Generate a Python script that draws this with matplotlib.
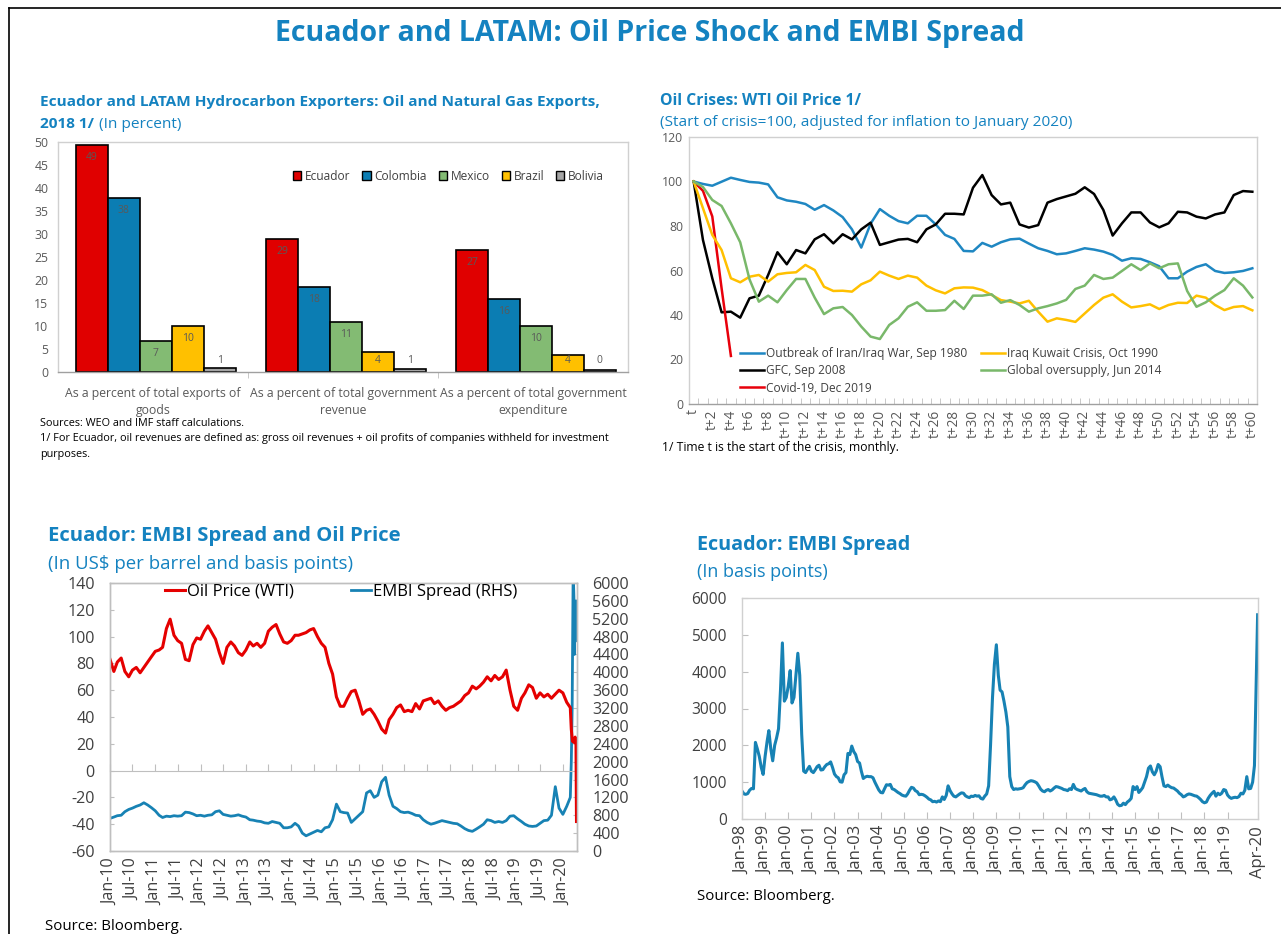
import numpy as np
import pandas as pd
import matplotlib
matplotlib.use("Agg")
import matplotlib.pyplot as plt
import matplotlib.dates as mdates
from matplotlib.patches import Patch
from matplotlib.lines import Line2D

plt.rcParams['font.family'] = ['Open Sans', 'DejaVu Sans']
plt.rcParams['axes.unicode_minus'] = False

# ---------------- data ----------------
# panel 1: hydrocarbon exports (percent)
bar_categories = ["As a percent of total exports of\ngoods",
                  "As a percent of total government\nrevenue",
                  "As a percent of total government\nexpenditure"]
countries = ["Ecuador", "Colombia", "Mexico", "Brazil", "Bolivia"]
ecuador_share = [49.4, 29.0, 26.6]
colombia_share = [37.9, 18.4, 15.9]
mexico_share = [6.7, 10.9, 9.9]
brazil_share = [9.9, 4.3, 3.6]
bolivia_share = [0.8, 0.6, 0.4]

# panel 2: WTI oil price in crises (start = 100), months t .. t+60
crisis_months = ['t' if i == 0 else 't+%d' % i for i in range(61)]
iran_iraq_1980 = [100, 98.9, 98.1, 99.9, 101.7, 100.7, 99.8, 99.5, 98.7, 92.9,
                  91.5, 90.9, 89.9, 87.3, 89.4, 87.0, 84.0, 78.5, 70.3, 81.0,
                  87.6, 84.6, 82.2, 81.2, 84.6, 84.6, 80.7, 76.0, 74.2, 68.8,
                  68.6, 72.4, 70.7, 72.7, 74.0, 74.3, 72.1, 70.0, 68.8, 67.3,
                  67.7, 68.8, 70.0, 69.4, 68.5, 67.0, 64.4, 65.5, 65.2, 63.7,
                  61.9, 56.5, 56.5, 59.5, 61.6, 62.8, 59.8, 58.9, 59.2, 59.8,
                  61.0]
iraq_kuwait_1990 = [100, 88.0, 76.0, 69.2, 56.5, 54.7, 57.2, 58.0, 55.0, 58.3,
                    58.9, 59.2, 62.5, 60.2, 52.7, 50.8, 50.9, 50.5, 53.8, 55.6,
                    59.5, 57.7, 56.2, 57.7, 56.8, 53.2, 51.1, 49.7, 52.0, 52.4,
                    52.3, 51.2, 49.0, 46.7, 46.0, 45.2, 46.4, 41.5, 37.0, 38.5,
                    37.8, 36.9, 40.7, 44.5, 47.8, 49.3, 46.0, 43.4, 44.0, 44.8,
                    42.7, 44.5, 45.5, 45.4, 48.7, 47.8, 44.5, 42.2, 43.6, 44.0,
                    42.1]
gfc_2008 = [100, 73.7, 56.5, 41.2, 41.5, 38.8, 47.5, 48.7, 58.0, 68.2,
            62.8, 69.2, 67.7, 74.0, 76.3, 72.2, 76.3, 74.0, 78.5, 81.5,
            71.5, 72.7, 73.9, 74.2, 72.7, 78.5, 80.7, 85.5, 85.5, 85.2,
            97.2, 102.9, 93.9, 89.7, 90.5, 80.7, 79.3, 80.4, 90.5, 92.1,
            93.3, 94.5, 97.4, 94.4, 87.2, 75.7, 81.2, 86.1, 86.1, 81.6,
            79.4, 81.2, 86.4, 86.1, 84.2, 83.4, 85.2, 86.1, 93.9, 95.7,
            95.4]
oversupply_2014 = [100, 97.5, 91.7, 89.0, 81.2, 72.7, 56.0, 46.0, 48.7, 45.7,
                   51.2, 56.2, 56.2, 47.8, 40.4, 43.0, 43.6, 40.0, 34.8, 30.3,
                   29.2, 35.5, 38.5, 43.7, 45.7, 41.9, 41.9, 42.2, 46.4, 42.7,
                   48.7, 48.7, 49.3, 45.5, 46.7, 44.5, 41.5, 43.0, 44.0, 45.2,
                   46.8, 51.7, 53.2, 58.0, 56.2, 56.8, 59.8, 62.8, 60.2, 63.2,
                   61.0, 62.8, 63.2, 50.8, 43.7, 45.7, 48.7, 51.2, 56.5, 53.2,
                   47.9]
covid_2019 = [100, 95.8, 84.3, 52.0, 21.6]

# panel 3: WTI (US$/bbl) and Ecuador EMBI (bp), monthly from Jan-2010 to Feb-2020
wti_monthly = [83, 74, 81, 84, 74, 70, 75, 77, 73, 77,
               81, 85, 89, 90, 92, 106, 113, 101, 97, 95,
               83, 82, 94, 99, 98, 104, 108, 103, 98, 88,
               80, 92, 96, 93, 88, 86, 90, 96, 93, 95,
               92, 95, 104, 107, 109, 102, 96, 95, 97, 101,
               101, 102, 103, 105, 106, 100, 95, 92, 80, 72,
               55, 48, 48, 54, 59, 60, 52, 42, 45, 46,
               42, 37, 31, 28, 38, 42, 47, 49, 44, 45,
               44, 50, 46, 52, 53, 54, 50, 52, 48, 45,
               47, 48, 50, 52, 56, 58, 63, 61, 63, 66,
               70, 67, 71, 68, 70, 75, 60, 48, 45, 54,
               58, 64, 62, 54, 58, 55, 57, 54, 57, 60,
               58, 51]
wti_tail_dates = ['2020-03-01', '2020-03-09', '2020-03-18', '2020-03-31',
                  '2020-04-09', '2020-04-16', '2020-04-20']
wti_tail = [47, 31, 22, 21, 25, 20, -38]
embi_monthly = [730, 760, 790, 800, 880, 930, 960, 1000, 1030, 1080,
                1030, 970, 900, 800, 750, 780, 770, 790, 780, 790,
                870, 860, 830, 790, 800, 780, 800, 810, 880, 900,
                820, 800, 780, 790, 810, 780, 760, 700, 690, 670,
                660, 630, 620, 660, 640, 620, 520, 520, 540, 620,
                560, 400, 340, 380, 420, 460, 430, 520, 540, 700,
                1050, 880, 860, 850, 640, 720, 800, 880, 1300, 1350,
                1200, 1250, 1550, 1650, 1250, 1000, 950, 880, 860, 870,
                840, 800, 790, 700, 640, 600, 620, 650, 680, 660,
                640, 620, 610, 560, 500, 460, 440, 490, 540, 600,
                700, 680, 640, 660, 640, 680, 780, 790, 720, 660,
                600, 560, 550, 560, 620, 680, 690, 800, 1440, 960,
                820, 1000]
embi_tail_dates = ['2020-03-01', '2020-03-09', '2020-03-16', '2020-03-20',
                   '2020-03-24', '2020-03-31', '2020-04-03', '2020-04-08',
                   '2020-04-14', '2020-04-17', '2020-04-21']
embi_tail = [1200, 2000, 3200, 4800, 6300, 5600, 4400, 5200, 4700, 5600, 5300]

# panel 4: Ecuador EMBI (bp), monthly from Jan-1998 to Mar-2020, then Apr-2020
embi_long = [760, 680, 670, 690, 780, 830, 820, 2080, 1900, 1700,
             1400, 1210, 1700, 2100, 2400, 1900, 1580, 2000, 2200, 2450,
             3500, 4780, 3200, 3300, 3600, 4030, 3150, 3300, 3900, 4500,
             3900, 2300, 1300, 1260, 1350, 1430, 1300, 1260, 1330, 1420,
             1460, 1330, 1340, 1420, 1480, 1500, 1550, 1400, 1220, 1150,
             1120, 1010, 1000, 1200, 1260, 1780, 1750, 1980, 1830, 1750,
             1560, 1520, 1300, 1100, 1140, 1160, 1150, 1150, 1120, 1000,
             890, 790, 720, 710, 820, 930, 920, 940, 820, 800,
             760, 720, 690, 650, 630, 620, 680, 780, 860, 840,
             770, 740, 660, 670, 660, 630, 590, 540, 520, 470,
             480, 460, 490, 470, 600, 530, 640, 900, 770, 680,
             620, 600, 640, 680, 710, 700, 630, 600, 580, 620,
             610, 640, 620, 630, 560, 540, 620, 680, 900, 2000,
             3300, 4200, 4730, 3900, 3500, 3450, 3200, 2900, 2500, 1150,
             880, 800, 820, 810, 820, 830, 850, 930, 990, 1020,
             1040, 1030, 1010, 980, 900, 810, 760, 740, 780, 800,
             760, 790, 840, 880, 870, 850, 830, 800, 790, 770,
             820, 800, 940, 830, 800, 780, 760, 800, 830, 740,
             700, 690, 680, 670, 660, 640, 620, 620, 640, 600,
             600, 520, 540, 600, 520, 400, 360, 370, 430, 390,
             460, 500, 560, 880, 800, 880, 720, 780, 850, 1000,
             1150, 1380, 1440, 1280, 1200, 1300, 1480, 1420, 1150, 900,
             880, 920, 880, 850, 840, 800, 760, 700, 660, 600,
             620, 660, 680, 670, 650, 630, 620, 580, 530, 470,
             440, 460, 560, 640, 700, 750, 620, 700, 660, 700,
             800, 780, 650, 590, 560, 580, 590, 580, 610, 700,
             680, 780, 1150, 820, 830, 1000, 1450]
embi_long_last_date = '2020-04-20'
embi_long_last = 5545

# ---------------- style ----------------
W, H = 1281, 934
TITLE_BLUE = '#1482c0'
GRID_GREY = '#bfbfbf'
TICK_GREY = '#595959'
DARK_GREY = '#404040'
bar_colors = ['#e00000', '#0b7db3', '#83bb73', '#ffc000', '#a5a5a5']

fig = plt.figure(figsize=(W / 100, H / 100), dpi=100)


def box(l, t, r, b):
    return [l / W, 1 - b / H, (r - l) / W, (b - t) / H]


def txt(x, y, s, **kw):
    kw.setdefault('va', 'center')
    return fig.text(x / W, 1 - y / H, s, **kw)


def grey_spines(ax, color=GRID_GREY):
    for sp in ax.spines.values():
        sp.set_color(color)
        sp.set_linewidth(1.0)


# frame
fig.add_artist(Line2D([9 / W, 9 / W], [0, 1 - 8 / H], color='black', lw=1.2))
fig.add_artist(Line2D([9 / W, 1], [1 - 8 / H, 1 - 8 / H], color='black', lw=1.2))

txt(650, 33, "Ecuador and LATAM: Oil Price Shock and EMBI Spread",
    ha='center', fontsize=20.5, fontweight='bold', color=TITLE_BLUE)

# ---------------- panel 1: bars ----------------
txt(40, 102, "Ecuador and LATAM Hydrocarbon Exporters: Oil and Natural Gas Exports,",
    fontsize=11.1, fontweight='bold', color=TITLE_BLUE)
t_bold = txt(40, 124, "2018 1/", fontsize=11.1, fontweight='bold', color=TITLE_BLUE)
fig.canvas.draw()
bb = t_bold.get_window_extent()
txt(bb.x1 + 5, 124, "(In percent)", fontsize=11.1, color=TITLE_BLUE)

ax1 = fig.add_axes(box(58, 142, 628, 372))
xc = np.arange(len(bar_categories))
bw = 0.168
series = [ecuador_share, colombia_share, mexico_share, brazil_share, bolivia_share]
for k, (name, vals, col) in enumerate(zip(countries, series, bar_colors)):
    pos = xc + (k - 2) * bw + 0.015
    ax1.bar(pos, vals, bw, color=col, edgecolor='black', linewidth=1.2, label=name, zorder=2)
    for p, v in zip(pos, vals):
        ax1.text(p, max(v - 2.7, 2.6), "%.0f" % v, ha='center', va='center',
                 fontsize=7.5, color=TICK_GREY, zorder=3)
ax1.set_xlim(-0.5, 2.5)
ax1.set_ylim(0, 50)
ax1.set_yticks(np.arange(0, 51, 5))
ax1.set_xticks(xc)
ax1.set_xticklabels(bar_categories, fontsize=8.8, color=TICK_GREY, linespacing=1.4)
ax1.set_xticks([0.5, 1.5], minor=True)
ax1.tick_params(axis='x', which='major', length=0, pad=11)
ax1.tick_params(axis='x', which='minor', length=4, color=GRID_GREY, direction='out')
ax1.tick_params(axis='y', length=0, labelsize=8.8, labelcolor=TICK_GREY, pad=7)
grey_spines(ax1, '#d0d0d0')
ax1.spines['bottom'].set_color('#a0a0a0')
handles1 = [Patch(facecolor=c, edgecolor='black', linewidth=1.0) for c in bar_colors]
ax1.legend(handles1, countries, loc='center', bbox_to_anchor=(0.685, 0.852), ncol=5,
           frameon=False, fontsize=8.6, handlelength=0.7, handleheight=0.7,
           handletextpad=0.3, columnspacing=1.0, labelcolor=DARK_GREY)

txt(40, 424, "Sources: WEO and IMF staff calculations.", fontsize=7.8, color='black')
txt(40, 439, "1/ For Ecuador, oil revenues are defined as: gross oil revenues + oil profits of companies withheld for investment",
    fontsize=7.8, color='black')
txt(40, 454, "purposes.", fontsize=7.8, color='black')

# ---------------- panel 2: oil crises ----------------
txt(660, 101, "Oil Crises: WTI Oil Price 1/", fontsize=11.3, fontweight='bold', color=TITLE_BLUE)
txt(660, 122, "(Start of crisis=100, adjusted for inflation to January 2020)",
    fontsize=11.1, color=TITLE_BLUE)

ax2 = fig.add_axes(box(689, 137, 1257, 404))
months = np.arange(len(crisis_months))
lw2 = 1.8
ax2.plot(months, iran_iraq_1980, color='#1f87c2', lw=lw2, label="Outbreak of Iran/Iraq War, Sep 1980")
ax2.plot(months, gfc_2008, color='black', lw=lw2, label="GFC, Sep 2008")
ax2.plot(months[:len(covid_2019)], covid_2019, color='#e8000b', lw=lw2, label="Covid-19, Dec 2019")
ax2.plot(months, iraq_kuwait_1990, color='#ffc000', lw=lw2, label="Iraq Kuwait Crisis, Oct 1990")
ax2.plot(months, oversupply_2014, color='#79b86a', lw=lw2, label="Global oversupply, Jun 2014")
ax2.set_xlim(-0.5, 60.5)
ax2.set_ylim(0, 120)
ax2.set_yticks(np.arange(0, 121, 20))
ax2.set_xticks(months[::2])
ax2.set_xticklabels(crisis_months[::2], rotation=90, fontsize=9.8, color=TICK_GREY)
ax2.set_xticks(np.arange(-0.5, 61, 1), minor=True)
ax2.tick_params(axis='x', which='major', length=0, pad=4)
ax2.tick_params(axis='x', which='minor', length=4, direction='in', color=GRID_GREY)
ax2.tick_params(axis='y', length=0, labelsize=8.8, labelcolor=TICK_GREY, pad=4)
grey_spines(ax2, '#d0d0d0')
ax2.spines['bottom'].set_color('#a0a0a0')
ax2.legend(loc='upper left', bbox_to_anchor=((740 - 689) / 568, (404 - 347) / 267), ncol=2,
           frameon=False, fontsize=8.6, handlelength=2.0, handletextpad=0.15,
           labelspacing=0.36, columnspacing=1.2, borderpad=0, borderaxespad=0,
           labelcolor=DARK_GREY)
txt(662, 447, "1/ Time t is the start of the crisis, monthly.", fontsize=8.7, color='black')

# ---------------- panel 3: EMBI and oil ----------------
txt(48, 536, "Ecuador: EMBI Spread and Oil Price", fontsize=14.6, fontweight='bold', color=TITLE_BLUE)
txt(48, 564, "(In US\\$ per barrel and basis points)", fontsize=13.4, color=TITLE_BLUE)

wti_dates = list(pd.date_range('2010-01-01', periods=len(wti_monthly), freq='MS')) + \
    list(pd.to_datetime(wti_tail_dates))
wti_vals = wti_monthly + wti_tail
embi_dates = list(pd.date_range('2010-01-01', periods=len(embi_monthly), freq='MS')) + \
    list(pd.to_datetime(embi_tail_dates))
embi_vals = embi_monthly + embi_tail

ax3 = fig.add_axes(box(110, 583, 577, 851))
ax3b = ax3.twinx()
ax3b.plot(embi_dates, embi_vals, color='#1782b4', lw=2.0, label="EMBI Spread (RHS)")
ax3.plot(wti_dates, wti_vals, color='#e50000', lw=2.2, label="Oil Price (WTI)")
ax3.set_zorder(ax3b.get_zorder() + 1)
ax3.patch.set_visible(False)
x_lo, x_hi = pd.Timestamp('2010-01-01'), pd.Timestamp('2020-04-24')
ax3.set_xlim(x_lo, x_hi)
ax3.set_ylim(-60, 140)
ax3.set_yticks(np.arange(-60, 141, 20))
ax3b.set_ylim(0, 6000)
ax3b.set_yticks(np.arange(0, 6001, 400))
half_years = pd.date_range('2010-01-01', '2020-01-01', freq='6MS')
ax3.set_xticks(half_years)
ax3.xaxis.set_major_formatter(mdates.DateFormatter('%b-%y'))
ax3.tick_params(axis='x', length=0, labelrotation=90, labelsize=11.6, labelcolor=DARK_GREY, pad=5)
ax3.tick_params(axis='y', direction='in', length=3, color=GRID_GREY, labelsize=11.6,
                labelcolor=DARK_GREY, pad=11)
ax3b.tick_params(axis='y', direction='in', length=3, color=GRID_GREY, labelsize=11.6,
                 labelcolor=DARK_GREY, pad=11)
grey_spines(ax3)
grey_spines(ax3b)
zero_axis = ax3.secondary_xaxis((0 - (-60)) / 200)
zero_axis.set_xticks(half_years)
zero_axis.set_xticklabels([])
zero_axis.tick_params(direction='in', length=5, color=GRID_GREY)
zero_axis.spines['bottom'].set_color(GRID_GREY)
h3 = ax3.get_legend_handles_labels()
h3b = ax3b.get_legend_handles_labels()
ax3.legend(h3[0] + h3b[0], h3[1] + h3b[1], loc='upper left',
           bbox_to_anchor=((165 - 110) / 467, (851 - 584) / 268), ncol=2, frameon=False,
           fontsize=12, handlelength=1.2, handletextpad=0.12, columnspacing=3.4,
           borderpad=0, borderaxespad=0, labelcolor='black')
txt(45, 926, "Source: Bloomberg.", fontsize=10.8, color='black')

# ---------------- panel 4: EMBI long ----------------
txt(697, 545, "Ecuador: EMBI Spread", fontsize=14.2, fontweight='bold', color=TITLE_BLUE)
txt(697, 572, "(In basis points)", fontsize=13, color=TITLE_BLUE)

long_dates = list(pd.date_range('1998-01-01', periods=len(embi_long), freq='MS')) + \
    [pd.Timestamp(embi_long_last_date)]
long_vals = embi_long + [embi_long_last]
ax4 = fig.add_axes(box(742, 598, 1258, 819))
ax4.plot(long_dates, long_vals, color='#1782b4', lw=2.2)
ax4.set_xlim(pd.Timestamp('1998-01-01'), pd.Timestamp('2020-04-26'))
ax4.set_ylim(0, 6000)
ax4.set_yticks(np.arange(0, 6001, 1000))
year_ticks = list(pd.date_range('1998-01-01', '2019-01-01', freq='YS')) + \
    [pd.Timestamp(embi_long_last_date)]
ax4.set_xticks(year_ticks)
ax4.xaxis.set_major_formatter(mdates.DateFormatter('%b-%y'))
ax4.tick_params(axis='x', direction='in', length=5, color=GRID_GREY, labelrotation=90,
                labelsize=12, labelcolor=DARK_GREY, pad=5)
ax4.tick_params(axis='y', direction='in', length=4, color=GRID_GREY, labelsize=11.2,
                labelcolor=DARK_GREY, pad=11)
grey_spines(ax4, '#d0d0d0')
txt(697, 897, "Source: Bloomberg.", fontsize=10.8, color='black')

fig.savefig('out.png', dpi=100)
